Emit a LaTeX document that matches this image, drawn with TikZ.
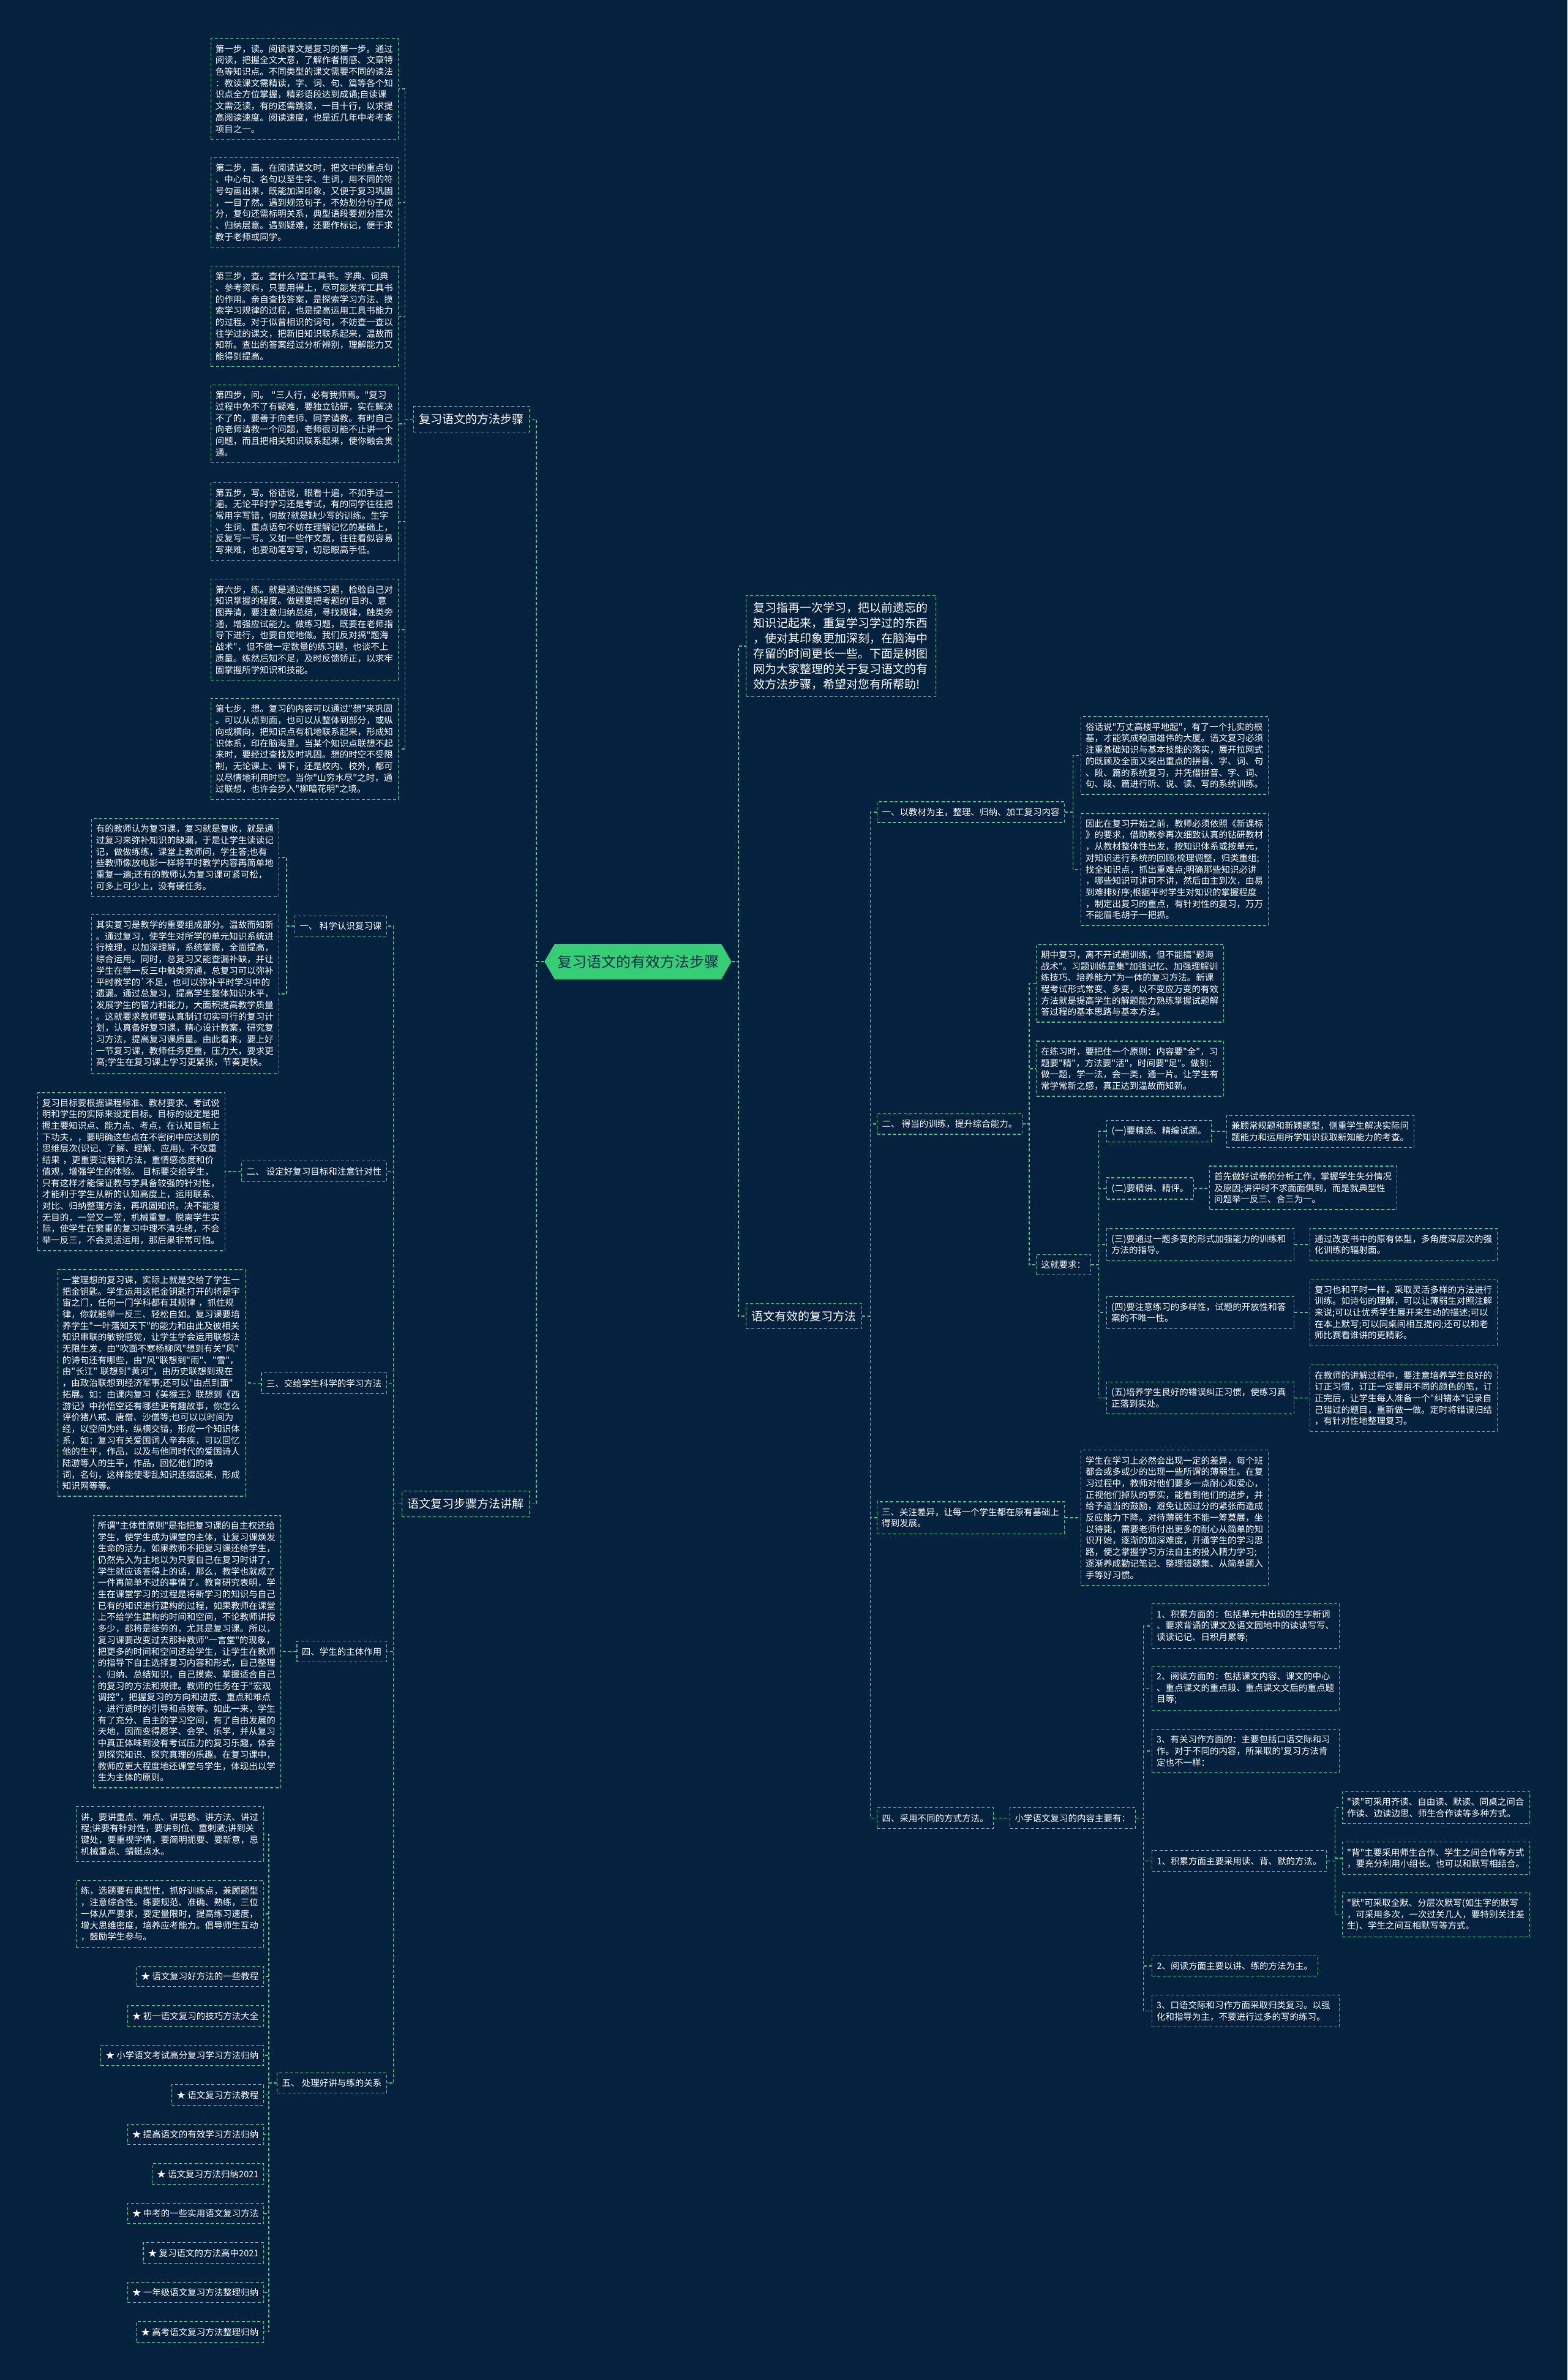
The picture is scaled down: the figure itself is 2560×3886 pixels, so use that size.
\documentclass[tikz,border=0pt]{standalone}
\usepackage{fontspec}
\newfontfamily\cjk{Noto Sans CJK SC}
\usepackage{tikz}
\usetikzlibrary{shapes.symbols}
\definecolor{mapbg}{HTML}{04223E}
\definecolor{mapline}{HTML}{45C98A}
\definecolor{hubfill}{HTML}{35CE77}
\definecolor{hubtext}{HTML}{0B2B47}

\begin{document}
\begin{tikzpicture}[
  x=1pt, y=-1pt,
  txtbox/.style={draw=mapline, line width=1.2pt, dash pattern=on 5pt off 3.5pt, text=white, align=left, text width=291pt, inner xsep=7.5pt, inner ysep=10pt, font=\cjk\fontsize{14.5pt}{18.7pt}\selectfont},
  lblbox/.style={draw=mapline, line width=1.2pt, dash pattern=on 5pt off 3.5pt, text=white, inner xsep=8pt, inner ysep=10pt, font=\cjk\fontsize{14.5pt}{18.7pt}\selectfont},
  topicbox/.style={lblbox, inner xsep=9pt, inner ysep=12pt, font=\cjk\fontsize{19pt}{25pt}\selectfont},
  leadbox/.style={topicbox, align=left, text width=286pt, inner xsep=12pt, inner ysep=11pt},
  hubnode/.style={signal, signal to=east and west, signal pointer angle=120, fill=hubfill, text=hubtext, minimum height=58pt, inner xsep=4pt, font=\cjk\fontsize{24pt}{28pt}\selectfont},
  wire/.style={draw=mapline, line width=1.2pt, dash pattern=on 5pt off 3.5pt}
]
\path[use as bounding box, fill=mapbg] (0,0) rectangle (2560,3886);

\node[hubnode] (hub) at (1042,1570) {复习语文的有效方法步骤};

\node[topicbox, anchor=east] (steps) at (865,684.5) {复习语文的方法步骤};
\node[topicbox, anchor=east] (explain) at (865,2455.5) {语文复习步骤方法讲解};
\node[leadbox, anchor=west] (intro) at (1218,1055) {复习指再一次学习，把以前遗忘的\\
知识记起来，重复学习学过的东西\\
，使对其印象更加深刻，在脑海中\\
存留的时间更长一些。下面是树图\\
网为大家整理的关于复习语文的有\\
效方法步骤，希望对您有所帮助!};
\node[topicbox, anchor=west] (methods) at (1218,2149) {语文有效的复习方法};

\node[txtbox, anchor=east] (step1) at (651,145) {第一步，读。阅读课文是复习的第一步。通过\\
阅读，把握全文大意，了解作者情感、文章特\\
色等知识点。不同类型的课文需要不同的读法\\
：教读课文需精读，字、词、句、篇等各个知\\
识点全方位掌握，精彩语段达到成诵;自读课\\
文需泛读，有的还需跳读，一目十行，以求提\\
高阅读速度。阅读速度，也是近几年中考考查\\
项目之一。};
\node[txtbox, anchor=east] (step2) at (651,330.5) {第二步，画。在阅读课文时，把文中的重点句\\
、中心句、名句以至生字、生词，用不同的符\\
号勾画出来，既能加深印象，又便于复习巩固\\
，一目了然。遇到规范句子，不妨划分句子成\\
分，复句还需标明关系，典型语段要划分层次\\
、归纳层意。遇到疑难，还要作标记，便于求\\
教于老师或同学。};
\node[txtbox, anchor=east] (step3) at (651,516.5) {第三步，查。查什么?查工具书。字典、词典\\
、参考资料，只要用得上，尽可能发挥工具书\\
的作用。亲自查找答案，是探索学习方法、摸\\
索学习规律的过程，也是提高运用工具书能力\\
的过程。对于似曾相识的词句，不妨查一查以\\
往学过的课文，把新旧知识联系起来，温故而\\
知新。查出的答案经过分析辨别，理解能力又\\
能得到提高。};
\node[txtbox, anchor=east] (step4) at (651,692) {第四步，问。 "三人行，必有我师焉。"复习\\
过程中免不了有疑难，要独立钻研，实在解决\\
不了的，要善于向老师、同学请教。有时自己\\
向老师请教一个问题，老师很可能不止讲一个\\
问题，而且把相关知识联系起来，使你融会贯\\
通。};
\node[txtbox, anchor=east] (step5) at (651,851.5) {第五步，写。俗话说，眼看十遍，不如手过一\\
遍。无论平时学习还是考试，有的同学往往把\\
常用字写错，何故?就是缺少写的训练。生字\\
、生词、重点语句不妨在理解记忆的基础上，\\
反复写一写。又如一些作文题，往往看似容易\\
写来难，也要动笔写写，切忌眼高手低。};
\node[txtbox, anchor=east] (step6) at (651,1028) {第六步，练。就是通过做练习题，检验自己对\\
知识掌握的程度。做题要把考题的'目的、意\\
图弄清，要注意归纳总结，寻找规律，触类旁\\
通，增强应试能力。做练习题，既要在老师指\\
导下进行，也要自觉地做。我们反对搞"题海\\
战术"，但不做一定数量的练习题，也谈不上\\
质量。练然后知不足，及时反馈矫正，以求牢\\
固掌握所学知识和技能。};
\node[txtbox, anchor=east] (step7) at (651,1223) {第七步，想。复习的内容可以通过"想"来巩固\\
。可以从点到面，也可以从整体到部分，或纵\\
向或横向，把知识点有机地联系起来，形成知\\
识体系，印在脑海里。当某个知识点联想不起\\
来时，要经过查找及时巩固。想的时空不受限\\
制，无论课上、课下，还是校内、校外，都可\\
以尽情地利用时空。当你"山穷水尽"之时，通\\
过联想，也许会步入"柳暗花明"之境。};

\node[lblbox, anchor=east] (lsec1) at (632,1512) {一、 科学认识复习课};
\node[lblbox, anchor=east] (lsec2) at (632,1912.5) {二、 设定好复习目标和注意针对性};
\node[lblbox, anchor=east] (lsec3) at (632,2258.5) {三、交给学生科学的学习方法};
\node[lblbox, anchor=east] (lsec4) at (632,2696.5) {四、学生的主体作用};
\node[lblbox, anchor=east] (lsec5) at (632,3401) {五、 处理好讲与练的关系};

\node[txtbox, anchor=east] (l1a) at (456,1400) {有的教师认为复习课，复习就是复收，就是通\\
过复习来弥补知识的缺漏，于是让学生读读记\\
记，做做练练，课堂上教师问，学生答;也有\\
些教师像放电影一样将平时教学内容再简单地\\
重复一遍;还有的教师认为复习课可紧可松，\\
可多上可少上，没有硬任务。};
\node[txtbox, anchor=east] (l1b) at (456,1623) {其实复习是教学的重要组成部分。温故而知新\\
。通过复习，使学生对所学的单元知识系统进\\
行梳理，以加深理解，系统掌握，全面提高，\\
综合运用。同时，总复习又能查漏补缺，并让\\
学生在举一反三中触类旁通，总复习可以弥补\\
平时教学的`不足，也可以弥补平时学习中的\\
遗漏。通过总复习，提高学生整体知识水平，\\
发展学生的智力和能力，大面积提高教学质量\\
。这就要求教师要认真制订切实可行的复习计\\
划，认真备好复习课，精心设计教案，研究复\\
习方法，提高复习课质量。由此看来，要上好\\
一节复习课，教师任务更重，压力大，要求更\\
高;学生在复习课上学习更紧张，节奏更快。};
\node[txtbox, anchor=east] (l2a) at (368,1913) {复习目标要根据课程标准、教材要求、考试说\\
明和学生的实际来设定目标。目标的设定是把\\
握主要知识点、能力点、考点，在认知目标上\\
下功夫，，要明确这些点在不密闭中应达到的\\
思维层次(识记、了解、理解、应用)。不仅重\\
结果 ，更重要过程和方法，重情感态度和价\\
值观，增强学生的体验。 目标要交给学生，\\
只有这样才能保证教与学具备较强的针对性，\\
才能利于学生从新的认知高度上，运用联系、\\
对比、归纳整理方法，再巩固知识。决不能漫\\
无目的，一堂又一堂，机械重复。脱离学生实\\
际，使学生在繁重的复习中理不清头绪，不会\\
举一反三，不会灵活运用，那后果非常可怕。};
\node[txtbox, anchor=east] (l3a) at (401,2258) {一堂理想的复习课，实际上就是交给了学生一\\
把金钥匙。学生运用这把金钥匙打开的将是宇\\
宙之门，任何一门学科都有其规律 ，抓住规\\
律，你就能举一反三、轻松自如。复习课要培\\
养学生"一叶落知天下"的能力和由此及彼相关\\
知识串联的敏锐感觉，让学生学会运用联想法\\
无限生发，由"吹面不寒杨柳风"想到有关"风"\\
的诗句还有哪些，由"风"联想到"雨"、"雪"，\\
由"长江" 联想到"黄河"，由历史联想到现在\\
，由政治联想到经济军事;还可以"由点到面"\\
拓展。如：由课内复习《美猴王》联想到《西\\
游记》中孙悟空还有哪些更有趣故事，你怎么\\
评价猪八戒、唐僧、沙僧等;也可以以时间为\\
经，以空间为纬，纵横交错，形成一个知识体\\
系，如：复习有关爱国词人辛弃疾，可以回忆\\
他的生平，作品，以及与他同时代的爱国诗人\\
陆游等人的生平，作品，回忆他们的诗\\
词，名句，这样能使零乱知识连缀起来，形成\\
知识网等等。};
\node[txtbox, anchor=east] (l4a) at (459,2696.5) {所谓"主体性原则"是指把复习课的自主权还给\\
学生，使学生成为课堂的主体，让复习课焕发\\
生命的活力。如果教师不把复习课还给学生，\\
仍然先入为主地以为只要自己在复习时讲了，\\
学生就应该答得上的话，那么，教学也就成了\\
一件再简单不过的事情了。教育研究表明，学\\
生在课堂学习的过程是将新学习的知识与自己\\
已有的知识进行建构的过程，如果教师在课堂\\
上不给学生建构的时间和空间，不论教师讲授\\
多少，都将是徒劳的，尤其是复习课。所以，\\
复习课要改变过去那种教师"一言堂"的现象，\\
把更多的时间和空间还给学生，让学生在教师\\
的指导下自主选择复习内容和形式，自己整理\\
、归纳、总结知识，自己摸索、掌握适合自己\\
的复习的方法和规律。教师的任务在于"宏观\\
调控"，把握复习的方向和进度、重点和难点\\
，进行适时的引导和点拨等。如此一来，学生\\
有了充分、自主的学习空间，有了自由发展的\\
天地，因而变得愿学、会学、乐学，并从复习\\
中真正体味到没有考试压力的复习乐趣，体会\\
到探究知识、探究真理的乐趣。在复习课中，\\
教师应更大程度地还课堂与学生，体现出以学\\
生为主体的原则。};
\node[txtbox, anchor=east] (l5a) at (431,2994.5) {讲，要讲重点、难点、讲思路、讲方法、讲过\\
程;讲要有针对性，要讲到位、重刺激;讲到关\\
键处，要重视学情，要简明扼要、要新意，忌\\
机械重点、蜻蜓点水。};
\node[txtbox, anchor=east] (l5b) at (431,3125) {练，选题要有典型性，抓好训练点，兼顾题型\\
，注意综合性。练要规范、准确、熟练，三位\\
一体从严要求，要定量限时，提高练习速度，\\
增大思维密度，培养应考能力。倡导师生互动\\
，鼓励学生参与。};
\node[lblbox, anchor=east] (star1) at (431,3227) {★ 语文复习好方法的一些教程};
\node[lblbox, anchor=east] (star2) at (431,3291.5) {★ 初一语文复习的技巧方法大全};
\node[lblbox, anchor=east] (star3) at (431,3356) {★ 小学语文考试高分复习学习方法归纳};
\node[lblbox, anchor=east] (star4) at (431,3420.5) {★ 语文复习方法教程};
\node[lblbox, anchor=east] (star5) at (431,3485) {★ 提高语文的有效学习方法归纳};
\node[lblbox, anchor=east] (star6) at (431,3549.5) {★ 语文复习方法归纳2021};
\node[lblbox, anchor=east] (star7) at (431,3614) {★ 中考的一些实用语文复习方法};
\node[lblbox, anchor=east] (star8) at (431,3678.5) {★ 复习语文的方法高中2021};
\node[lblbox, anchor=east] (star9) at (431,3743) {★ 一年级语文复习方法整理归纳};
\node[lblbox, anchor=east] (star10) at (431,3807.5) {★ 高考语文复习方法整理归纳};

\node[lblbox, anchor=west] (rsec1) at (1432,1326) {一、以教材为主，整理、归纳、加工复习内容};
\node[lblbox, anchor=west] (rsec2) at (1432,1835) {二、 得当的训练，提升综合能力。};
\node[txtbox, anchor=west] (rsec3) at (1432,2478) {三、关注差异，让每一个学生都在原有基础上\\
得到发展。};
\node[lblbox, anchor=west] (rsec4) at (1432,2968.5) {四、采用不同的方式方法。};

\node[txtbox, anchor=west] (r1a) at (1765,1233.5) {俗话说"万丈高楼平地起"，有了一个扎实的根\\
基，才能筑成稳固雄伟的大厦。语文复习必须\\
注重基础知识与基本技能的落实，展开拉网式\\
的既顾及全面又突出重点的拼音、字、词、句\\
、段、篇的系统复习，并凭借拼音、字、词、\\
句、段、篇进行听、说、读、写的系统训练。};
\node[txtbox, anchor=west] (r1b) at (1765,1419.5) {因此在复习开始之前，教师必须依照《新课标\\
》的要求，借助教参再次细致认真的钻研教材\\
，从教材整体性出发，按知识体系或按单元，\\
对知识进行系统的回顾;梳理调整，归类重组;\\
找全知识点，抓出重难点;明确那些知识必讲\\
，哪些知识可讲可不讲，然后由主到次，由易\\
到难排好序;根据平时学生对知识的掌握程度\\
，制定出复习的重点，有针对性的复习，万万\\
不能眉毛胡子一把抓。};

\node[txtbox, anchor=west] (r2a) at (1692,1605.5) {期中复习，离不开试题训练，但不能搞"题海\\
战术"。习题训练是集"加强记忆、加强理解训\\
练技巧、培养能力"为一体的复习方法。新课\\
程考试形式常变、多变，以不变应万变的有效\\
方法就是提高学生的解题能力熟练掌握试题解\\
答过程的基本思路与基本方法。};
\node[txtbox, anchor=west] (r2b) at (1692,1745) {在练习时，要把住一个原则：内容要"全"，习\\
题要"精"，方法要"活"，时间要"足"。做到：\\
做一题，学一法，会一类，通一片。让学生有\\
常学常新之感，真正达到温故而知新。};
\node[lblbox, anchor=west] (r2c) at (1692,2065) {这就要求：};

\node[lblbox, anchor=west] (ask1) at (1807,1847) {(一)要精选、精编试题。};
\node[lblbox, anchor=west] (ask2) at (1807,1940.5) {(二)要精讲、精评。};
\node[txtbox, anchor=west] (ask3) at (1807,2032) {(三)要通过一题多变的形式加强能力的训练和\\
方法的指导。};
\node[txtbox, anchor=west] (ask4) at (1807,2143) {(四)要注意练习的多样性，试题的开放性和答\\
案的不唯一性。};
\node[txtbox, anchor=west] (ask5) at (1807,2282.5) {(五)培养学生良好的错误纠正习惯，使练习真\\
正落到实处。};

\node[txtbox, anchor=west] (how1) at (2003,1847.5) {兼顾常规题和新颖题型，侧重学生解决实际问\\
题能力和运用所学知识获取新知能力的考查。};
\node[txtbox, anchor=west] (how2) at (1975,1939.5) {首先做好试卷的分析工作，掌握学生失分情况\\
及原因;讲评时不求面面俱到，而是就典型性\\
问题举一反三、合三为一。};
\node[txtbox, anchor=west] (how3) at (2139,2032) {通过改变书中的原有体型，多角度深层次的强\\
化训练的辐射面。};
\node[txtbox, anchor=west] (how4) at (2139,2143) {复习也和平时一样，采取灵活多样的方法进行\\
训练。如诗句的理解，可以让薄弱生对照注解\\
来说;可以让优秀学生展开来生动的描述;可以\\
在本上默写;可以同桌间相互提问;还可以和老\\
师比赛看谁讲的更精彩。};
\node[txtbox, anchor=west] (how5) at (2139,2283) {在教师的讲解过程中，要注意培养学生良好的\\
订正习惯，订正一定要用不同的颜色的笔，订\\
正完后，让学生每人准备一个"纠错本"记录自\\
己错过的题目，重新做一做。定时将错误归结\\
，有针对性地整理复习。};

\node[txtbox, anchor=west] (r3a) at (1765,2478) {学生在学习上必然会出现一定的差异，每个班\\
都会或多或少的出现一些所谓的薄弱生。在复\\
习过程中，教师对他们要多一点耐心和爱心，\\
正视他们掉队的事实，能看到他们的进步，并\\
给予适当的鼓励，避免让因过分的紧张而造成\\
反应能力下降。对待薄弱生不能一筹莫展，坐\\
以待毙，需要老师付出更多的耐心从简单的知\\
识开始，逐渐的加深难度，开通学生的学习思\\
路，使之掌握学习方法自主的投入精力学习;\\
逐渐养成勤记笔记、整理错题集、从简单题入\\
手等好习惯。};

\node[lblbox, anchor=west] (r4a) at (1649,2968.5) {小学语文复习的内容主要有：};
\node[txtbox, anchor=west] (part1) at (1881,2655) {1、积累方面的：包括单元中出现的生字新词\\
、要求背诵的课文及语文园地中的读读写写、\\
读读记记、日积月累等;};
\node[txtbox, anchor=west] (part2) at (1881,2756.5) {2、阅读方面的：包括课文内容、课文的中心\\
、重点课文的重点段、重点课文文后的重点题\\
目等;};
\node[txtbox, anchor=west] (part3) at (1881,2859) {3、有关习作方面的：主要包括口语交际和习\\
作。对于不同的内容，所采取的'复习方法肯\\
定也不一样：};
\node[lblbox, anchor=west] (part4) at (1881,3038.5) {1、积累方面主要采用读、背、默的方法。};
\node[lblbox, anchor=west] (part5) at (1881,3210) {2、阅读方面主要以讲、练的方法为主。};
\node[txtbox, anchor=west] (part6) at (1881,3283.5) {3、口语交际和习作方面采取归类复习。以强\\
化和指导为主，不要进行过多的写的练习。};
\node[txtbox, anchor=west] (way1) at (2192,2951.5) {"读"可采用齐读、自由读、默读、同桌之间合\\
作读、边读边思、师生合作读等多种方式。};
\node[txtbox, anchor=west] (way2) at (2192,3034) {"背"主要采用师生合作、学生之间合作等方式\\
，要充分利用小组长。也可以和默写相结合。};
\node[txtbox, anchor=west] (way3) at (2192,3126.5) {"默"可采取全默、分层次默写(如生字的默写\\
，可采用多次，一次过关几人，要特别关注差\\
生)、学生之间互相默写等方式。};

\draw[wire] (hub.west) -- ++(-13,0) |- (steps.east);
\draw[wire] (hub.west) -- ++(-13,0) |- (explain.east);
\draw[wire] (hub.east) -- ++(11,0) |- (intro.west);
\draw[wire] (hub.east) -- ++(11,0) |- (methods.west);

\draw[wire] (steps.west) -- ++(-13,0) |- (step1.east);
\draw[wire] (steps.west) -- ++(-13,0) |- (step2.east);
\draw[wire] (steps.west) -- ++(-13,0) |- (step3.east);
\draw[wire] (steps.west) -- ++(-13,0) |- (step4.east);
\draw[wire] (steps.west) -- ++(-13,0) |- (step5.east);
\draw[wire] (steps.west) -- ++(-13,0) |- (step6.east);
\draw[wire] (steps.west) -- ++(-13,0) |- (step7.east);

\draw[wire] (explain.west) -- ++(-13,0) |- (lsec1.east);
\draw[wire] (explain.west) -- ++(-13,0) |- (lsec2.east);
\draw[wire] (explain.west) -- ++(-13,0) |- (lsec3.east);
\draw[wire] (explain.west) -- ++(-13,0) |- (lsec4.east);
\draw[wire] (explain.west) -- ++(-13,0) |- (lsec5.east);
\draw[wire] (lsec1.west) -- ++(-13,0) |- (l1a.east);
\draw[wire] (lsec1.west) -- ++(-13,0) |- (l1b.east);
\draw[wire] (lsec2.west) -- ++(-13,0) |- (l2a.east);
\draw[wire] (lsec3.west) -- ++(-13,0) |- (l3a.east);
\draw[wire] (lsec4.west) -- ++(-13,0) |- (l4a.east);
\draw[wire] (lsec5.west) -- ++(-13,0) |- (l5a.east);
\draw[wire] (lsec5.west) -- ++(-13,0) |- (l5b.east);
\draw[wire] (lsec5.west) -- ++(-13,0) |- (star1.east);
\draw[wire] (lsec5.west) -- ++(-13,0) |- (star2.east);
\draw[wire] (lsec5.west) -- ++(-13,0) |- (star3.east);
\draw[wire] (lsec5.west) -- ++(-13,0) |- (star4.east);
\draw[wire] (lsec5.west) -- ++(-13,0) |- (star5.east);
\draw[wire] (lsec5.west) -- ++(-13,0) |- (star6.east);
\draw[wire] (lsec5.west) -- ++(-13,0) |- (star7.east);
\draw[wire] (lsec5.west) -- ++(-13,0) |- (star8.east);
\draw[wire] (lsec5.west) -- ++(-13,0) |- (star9.east);
\draw[wire] (lsec5.west) -- ++(-13,0) |- (star10.east);

\draw[wire] (methods.east) -- ++(13,0) |- (rsec1.west);
\draw[wire] (methods.east) -- ++(13,0) |- (rsec2.west);
\draw[wire] (methods.east) -- ++(13,0) |- (rsec3.west);
\draw[wire] (methods.east) -- ++(13,0) |- (rsec4.west);
\draw[wire] (rsec1.east) -- ++(13,0) |- (r1a.west);
\draw[wire] (rsec1.east) -- ++(13,0) |- (r1b.west);
\draw[wire] (rsec2.east) -- ++(11,0) |- (r2a.west);
\draw[wire] (rsec2.east) -- ++(11,0) |- (r2b.west);
\draw[wire] (rsec2.east) -- ++(11,0) |- (r2c.west);
\draw[wire] (r2c.east) -- ++(13,0) |- (ask1.west);
\draw[wire] (r2c.east) -- ++(13,0) |- (ask2.west);
\draw[wire] (r2c.east) -- ++(13,0) |- (ask3.west);
\draw[wire] (r2c.east) -- ++(13,0) |- (ask4.west);
\draw[wire] (r2c.east) -- ++(13,0) |- (ask5.west);
\draw[wire] (ask1) -- (how1);
\draw[wire] (ask2) -- (how2);
\draw[wire] (ask3) -- (how3);
\draw[wire] (ask4) -- (how4);
\draw[wire] (ask5) -- (how5);
\draw[wire] (rsec3) -- (r3a);
\draw[wire] (rsec4) -- (r4a);
\draw[wire] (r4a.east) -- ++(13,0) |- (part1.west);
\draw[wire] (r4a.east) -- ++(13,0) |- (part2.west);
\draw[wire] (r4a.east) -- ++(13,0) |- (part3.west);
\draw[wire] (r4a.east) -- ++(13,0) |- (part4.west);
\draw[wire] (r4a.east) -- ++(13,0) |- (part5.west);
\draw[wire] (r4a.east) -- ++(13,0) |- (part6.west);
\draw[wire] (part4.east) -- ++(13,0) |- (way1.west);
\draw[wire] (part4.east) -- ++(13,0) |- (way2.west);
\draw[wire] (part4.east) -- ++(13,0) |- (way3.west);
\end{tikzpicture}
\end{document}
